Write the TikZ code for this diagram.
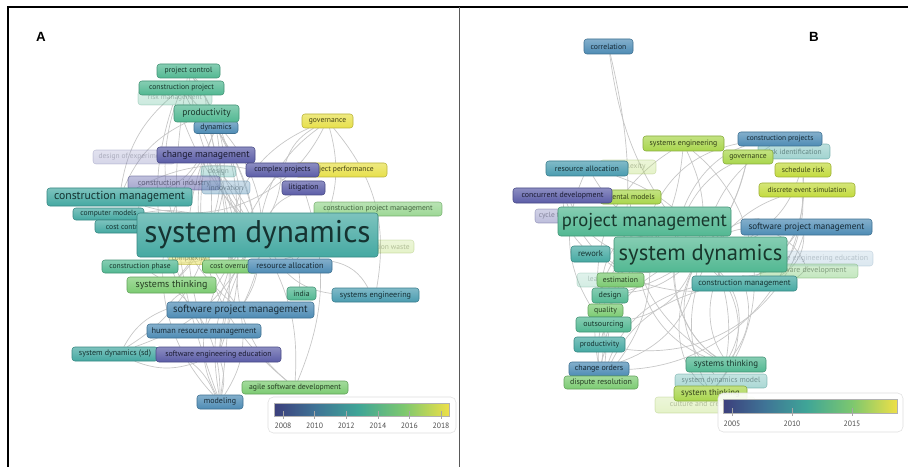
\documentclass[tikz,border=0pt]{standalone}
\usepackage{fontspec}
\newfontfamily\kwfont{PT Sans}
\newfontfamily\lblfont{Liberation Sans}
\definecolor{yPurple}{HTML}{5B5DA7}
\definecolor{yBlue}{HTML}{4E8CB5}
\definecolor{yBlueTeal}{HTML}{4A9CB0}
\definecolor{yTeal}{HTML}{45A9A2}
\definecolor{yGreenTeal}{HTML}{52B892}
\definecolor{yGreen}{HTML}{7CCB72}
\definecolor{yLime}{HTML}{A9D64C}
\definecolor{yLimeY}{HTML}{C3DB3E}
\definecolor{yYellow}{HTML}{E7E04A}
\definecolor{bar0}{HTML}{3C3F7C}
\definecolor{bar1}{HTML}{3F7496}
\definecolor{bar2}{HTML}{3FA597}
\definecolor{bar3}{HTML}{7CC76F}
\definecolor{bar4}{HTML}{EEE047}
\pgfdeclarehorizontalshading{yearbar}{100bp}{color(0bp)=(bar0); color(25bp)=(bar0); color(37bp)=(bar1); color(49bp)=(bar2); color(62bp)=(bar3); color(75bp)=(bar4); color(100bp)=(bar4)}
\pgfdeclarelayer{paper}
\pgfdeclarelayer{edges}
\pgfsetlayers{paper,edges,main}
\begin{document}
\begin{tikzpicture}[x=0.75pt,y=-0.75pt,
  kw/.style={rectangle,rounded corners=2.2pt,inner sep=0pt,top color=#1!70!white,bottom color=#1,draw=#1!80!black,line width=0.4pt,text=#1!30!black},
  fs/.style={font=\kwfont\fontsize{#1}{#1}\selectfont},
  bw/.style={minimum width=#1*0.75pt},
  bh/.style={minimum height=#1*0.75pt},
  faded/.style={opacity=#1},
  edge/.style={draw=gray!45,line width=0.5pt},
  yearlbl/.style={font=\kwfont\fontsize{5.8}{6}\selectfont,text=gray!60!black}]
\begin{pgfonlayer}{paper}
\fill[white] (0,0) rectangle (908,467);
\end{pgfonlayer}
\useasboundingbox (0,0) rectangle (908,467);
\begin{scope}
\clip (0,0) rectangle (908,467);
\draw[line width=1.5pt] (8,472) -- (8,7) -- (912,7);
\draw[line width=0.6pt,gray!70!black] (459,7) -- (459,472);
\end{scope}
\node[font=\lblfont\bfseries\fontsize{10}{12}\selectfont] (labA) at (41,37) {A};
\node[font=\lblfont\bfseries\fontsize{10}{12}\selectfont] (labB) at (814,37) {B};

% panel A
\node[kw=yGreenTeal,faded=0.3,fs=5.5,bw=74,bh=14] (aRisk) at (175,98) {risk management};
\node[kw=yGreenTeal,fs=5.7,bw=85,bh=14] (aCP) at (181.5,88) {construction project};
\node[kw=yGreenTeal,fs=5.7,bw=63,bh=14] (aPC) at (188.5,71) {project control};
\node[kw=yBlue,fs=5.9,bw=44,bh=12] (aDyn) at (216,127.5) {dynamics};
\node[kw=yGreenTeal,fs=7.1,bw=65,bh=17] (aProd) at (206.5,113.5) {productivity};
\node[kw=yYellow,fs=5.7,bw=51,bh=14] (aGov) at (327.5,121) {governance};
\node[kw=yPurple,faded=0.25,fs=5.6,bw=82,bh=14] (aDoE) at (134,157) {design of experiments};
\node[kw=yPurple,fs=7.3,bw=98,bh=16] (aCM) at (206,155) {change management};
\node[kw=yTeal,faded=0.35,fs=5.5,bw=35,bh=11] (aDesign) at (218.5,171.5) {design};
\node[kw=yPurple,faded=0.55,fs=6.0,bw=92,bh=14] (aConInd) at (174,183) {construction industry};
\node[kw=yBlue,faded=0.4,fs=5.7,bw=48,bh=13] (aInnov) at (226,187.5) {innovation};
\node[kw=yYellow,fs=5.7,bw=92,bh=14] (aPP) at (341,170) {project performance};
\node[kw=yPurple,fs=5.8,bw=73,bh=14] (aCplx) at (282.5,170) {complex projects};
\node[kw=yPurple,fs=5.8,bw=43,bh=14] (aLit) at (303.5,188) {litigation};
\node[kw=yTeal,fs=8.8,bw=145,bh=18] (aConMgmt) at (119.5,197) {construction management};
\node[kw=yTeal,fs=5.7,bw=71,bh=12] (aCompM) at (108.5,214) {computer models};
\node[kw=yTeal,fs=5.7,bw=60,bh=13] (aCC) at (125,226.5) {cost control};
\node[kw=yGreen,faded=0.75,fs=5.7,bw=128,bh=14] (aCPM) at (378,209) {construction project management};
\node[kw=yLime,faded=0.3,fs=5.6,bw=69,bh=13] (aCW) at (379.5,246.5) {construction waste};
\node[kw=yYellow,faded=0.5,fs=5.5,bw=40,bh=11] (aCmplx) at (189,259) {complexity};
\node[kw=yTeal,fs=23.5,bw=241,bh=44] (aSD) at (257.5,235) {system dynamics};
\node[kw=yGreenTeal,fs=5.7,bw=76,bh=13] (aCPhase) at (140,266.5) {construction phase};
\node[kw=yGreen,fs=5.7,bw=55,bh=13] (aCostO) at (230,266.5) {cost overrun};
\node[kw=yBlue,fs=6.2,bw=84,bh=14] (aRA) at (290,266) {resource allocation};
\node[kw=yGreen,fs=7.5,bw=89,bh=16] (aST) at (171.5,285) {systems thinking};
\node[kw=yGreenTeal,fs=5.8,bw=29,bh=13] (aIndia) at (301.5,293.5) {india};
\node[kw=yBlueTeal,fs=6.1,bw=87,bh=14] (aSE) at (375.5,295) {systems engineering};
\node[kw=yBlue,fs=7.9,bw=147,bh=16] (aSPM) at (240.5,310) {software project management};
\node[kw=yBlue,fs=6.2,bw=114,bh=14] (aHRM) at (204,331) {human resource management};
\node[kw=yTeal,fs=6.0,bw=86,bh=14] (aSDsd) at (115,354) {system dynamics (sd)};
\node[kw=yPurple,fs=5.9,bw=125,bh=15] (aSEE) at (218.5,354.5) {software engineering education};
\node[kw=yGreen,fs=5.8,bw=106,bh=13] (aAgile) at (295,387.5) {agile software development};
\node[kw=yBlue,fs=6.0,bw=46,bh=14] (aModel) at (220,402) {modeling};

% legend A
\draw[draw=gray!25,fill=white,rounded corners=4pt] (268,397) rectangle (456,433);
\shade[shading=yearbar,draw=gray!60,line width=0.3pt] (274,403) rectangle (449,416);
\foreach \yr [count=\i from 0] in {2008,2010,2012,2014,2016,2018} {
  \draw[gray!70,line width=0.3pt] (283+31.6*\i,411) -- (283+31.6*\i,419);
  \node[yearlbl] (tA\yr) at (283+31.6*\i,426) {\yr};
}

% panel B
\node[kw=yBlue,fs=5.8,bw=49,bh=15] (bCorr) at (608.5,46.5) {correlation};
\node[kw=yTeal,faded=0.5,fs=5.6,bw=72,bh=15] (bRiskI) at (794,151.5) {risk identification};
\node[kw=yBlue,fs=5.6,bw=84,bh=14] (bCP) at (780,139) {construction projects};
\node[kw=yLime,fs=5.8,bw=81,bh=15] (bSE) at (683.5,143.5) {systems engineering};
\node[kw=yLime,fs=5.7,bw=50,bh=14] (bGov) at (748,157) {governance};
\node[kw=yLime,faded=0.3,fs=5.6,bw=56,bh=14] (bCmplx) at (628,167) {complexity};
\node[kw=yBlueTeal,fs=5.9,bw=82,bh=15] (bRA) at (587,168.5) {resource allocation};
\node[kw=yLimeY,fs=5.7,bw=56,bh=14] (bSR) at (803,170) {schedule risk};
\node[kw=yLimeY,fs=5.5,bw=96,bh=14] (bDES) at (807,190) {discrete event simulation};
\node[kw=yLime,fs=5.7,bw=61,bh=14] (bMM) at (630.5,197) {mental models};
\node[kw=yPurple,fs=5.9,bw=99,bh=15] (bConc) at (562.5,195.5) {concurrent development};
\node[kw=yPurple,faded=0.4,fs=5.6,bw=40,bh=14] (bCycle) at (555,216) {cycle time};
\node[kw=yGreenTeal,fs=14,bw=173,bh=29] (bPM) at (644.5,221.5) {project management};
\node[kw=yBlue,fs=6.8,bw=131,bh=16] (bSPM) at (806.5,227) {software project management};
\node[kw=yBlue,faded=0.2,fs=5.9,bw=116,bh=15] (bSEE) at (815,258.5) {software engineering education};
\node[kw=yGreen,faded=0.45,fs=5.9,bw=98,bh=14] (bSDev) at (809,271) {software development};
\node[kw=yTeal,fs=6.4,bw=39,bh=16] (bRew) at (590.5,254) {rework};
\node[kw=yGreenTeal,fs=17,bw=173,bh=35] (bSD) at (700.5,254.5) {system dynamics};
\node[kw=yGreenTeal,faded=0.25,fs=5.6,bw=48,bh=14] (bLearn) at (601,280) {learning};
\node[kw=yGreen,fs=5.8,bw=47,bh=14] (bEst) at (620.5,280) {estimation};
\node[kw=yTeal,fs=6.2,bw=105,bh=15] (bCM) at (744.5,283.5) {construction management};
\node[kw=yGreenTeal,fs=6.0,bw=36,bh=15] (bDes) at (610,295.5) {design};
\node[kw=yGreen,fs=5.8,bw=35,bh=13] (bQual) at (605.5,310.5) {quality};
\node[kw=yGreenTeal,fs=6.0,bw=55,bh=15] (bOut) at (603.5,324.5) {outsourcing};
\node[kw=yTeal,fs=5.8,bw=51,bh=15] (bProd) at (599.5,344.5) {productivity};
\node[kw=yBlue,fs=6.0,bw=60,bh=14] (bCO) at (599,369) {change orders};
\node[kw=yGreen,fs=6.0,bw=74,bh=13] (bDR) at (601,382.5) {dispute resolution};
\node[kw=yLime,faded=0.3,fs=5.8,bw=100,bh=16] (bCult) at (705,405) {culture and creativity};
\node[kw=yGreenTeal,fs=6.7,bw=80,bh=15] (bST) at (726,364.5) {systems thinking};
\node[kw=yTeal,faded=0.45,fs=5.8,bw=92,bh=14] (bSDM) at (721,381) {system dynamics model};
\node[kw=yLime,fs=6.5,bw=73,bh=15] (bSTk) at (710.5,393.5) {system thinking};

% legend B
\draw[draw=gray!25,fill=white,fill opacity=0.9,rounded corners=4pt] (718,393) rectangle (903,432);
\shade[shading=yearbar,draw=gray!60,line width=0.3pt] (723,399) rectangle (897,413);
\foreach \yr [count=\i from 0] in {2005,2010,2015} {
  \draw[gray!70,line width=0.3pt] (732+60*\i,408) -- (732+60*\i,416);
  \node[yearlbl] (tB\yr) at (732+60*\i,424) {\yr};
}

% links
\begin{pgfonlayer}{edges}
\foreach \a/\bd in {aPC/15,aCP/-15,aProd/10,aDyn/-10,aGov/20,aCM/10,aCplx/-10,aLit/15,aCPM/-20,aConMgmt/10,aCompM/-10,aRA/10,aST/-15,aIndia/20,aSE/-25,aSPM/15,aHRM/-15,aSDsd/20,aSEE/-10,aAgile/15,aModel/-20,aCPhase/10,aCostO/-10,aRisk/10,aInnov/10,aDesign/-10}
  \draw[edge] (aSD) to[bend left=\bd] (\a);
\foreach \a/\b/\bd in {aPC/aProd/20,aCP/aConMgmt/-20,aProd/aCostO/25,aDyn/aSPM/-30,aGov/aRA/30,aGov/aCplx/-20,aGov/aSE/25,aSPM/aModel/20,aHRM/aModel/-15,aSEE/aModel/15,aSDsd/aSEE/-20,aSPM/aAgile/-15,aSDsd/aSPM/20,aST/aSPM/-20,aSE/aRA/-25,aCM/aConMgmt/15,aLit/aConMgmt/-25,aProd/aConMgmt/-20,aSDsd/aModel/30,aProd/aSPM/35,aCP/aSPM/-35,aPC/aHRM/30,aCM/aModel/-40,aCPhase/aModel/30,aDesign/aSEE/20,aDyn/aST/25,aCM/aAgile/-30,aPC/aModel/-15,aCP/aSEE/20,aProd/aModel/10,aDyn/aHRM/-20,aCM/aSDsd/35,aCplx/aSPM/-25,aLit/aAgile/20,aGov/aCostO/-35,aGov/aConMgmt/40,aRisk/aHRM/-25,aPC/aST/40}
  \draw[edge] (\a) to[bend left=\bd] (\b);
\foreach \a/\bd in {bCorr/15,bSE/-15,bCP/20,bGov/-10,bRA/15,bSR/-20,bDES/-25,bConc/20,bPM/30,bSPM/-30,bRew/20,bEst/-20,bCM/40,bDes/15,bQual/-20,bOut/25,bProd/-25,bCO/30,bDR/-30,bST/35,bSDM/-35,bSTk/40,bSDev/50,bSEE/-50}
  \draw[edge] (bSD) to[bend left=\bd] (\a);
\foreach \a/\b/\bd in {bCorr/bProd/15,bPM/bST/-40,bPM/bDR/25,bPM/bCO/-25,bSPM/bST/-50,bSPM/bCM/30,bCM/bST/25,bCM/bDR/-30,bRA/bOut/-30,bSE/bDes/20,bGov/bST/-60,bDES/bSTk/-50,bSR/bCM/30,bPM/bCP/25,bConc/bRew/-20,bDes/bCO/10,bQual/bCO/-10,bOut/bDR/10,bSPM/bSTk/-70,bCP/bST/-65,bDes/bGov/-30,bOut/bSE/35,bProd/bSPM/-40,bCO/bSR/-45,bDR/bCM/25,bQual/bPM/30,bRA/bST/40,bConc/bCM/-35,bSE/bSTk/45,bMM/bST/-30}
  \draw[edge] (\a) to[bend left=\bd] (\b);
\end{pgfonlayer}
\end{tikzpicture}
\end{document}
